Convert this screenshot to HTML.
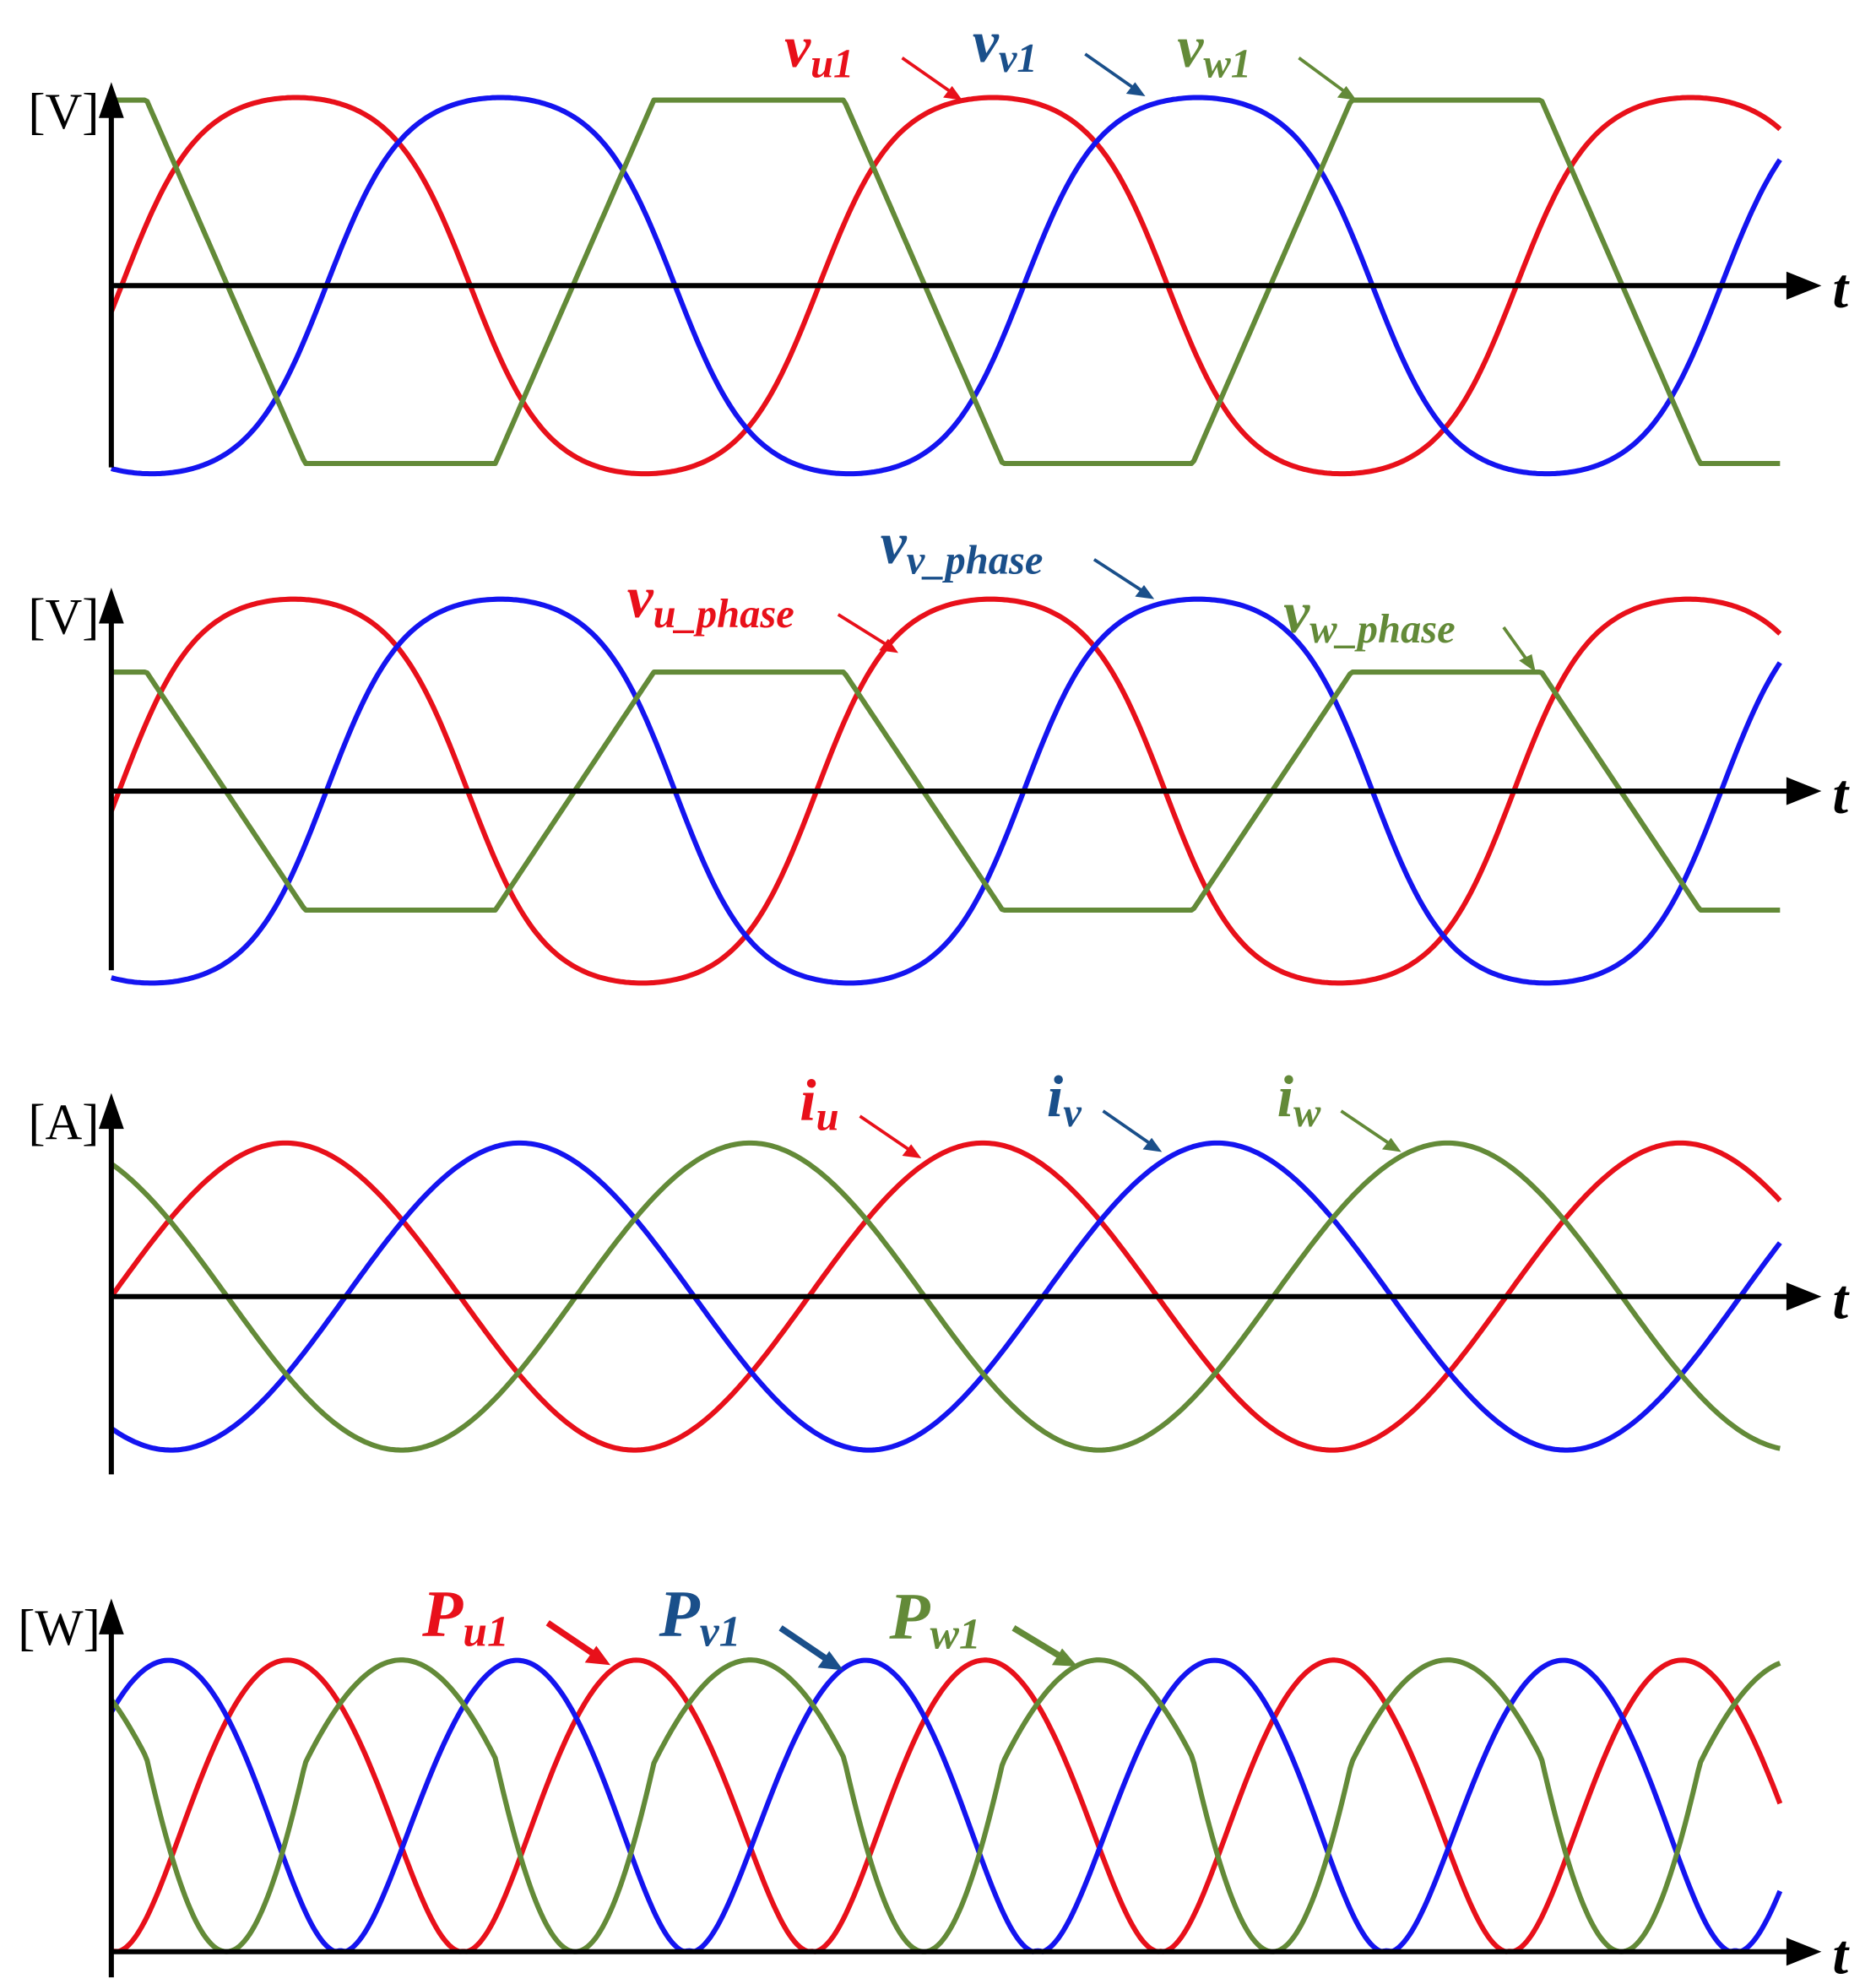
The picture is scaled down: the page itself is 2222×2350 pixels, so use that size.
<!DOCTYPE html>
<html><head><meta charset="utf-8"><style>
html,body{margin:0;padding:0;background:#fff}
svg{display:block}
.l{font-family:"Liberation Serif",serif;font-style:italic;font-weight:bold}
.u{font-family:"Liberation Serif",serif;font-size:40px}
</style></head><body>
<svg id="s" width="2222" height="2350" viewBox="0 0 1466 1550" xmlns="http://www.w3.org/2000/svg">
<g id="curves" fill="none" stroke-width="4" stroke-linejoin="round"></g>
<g id="axes" stroke="#000" stroke-width="4">
<line x1="87" y1="365" x2="87" y2="78"/><path d="M80,90 L87,70 L94,90 z" fill="#000"/>
<line x1="87" y1="223" x2="1405" y2="223"/><path d="M1398,215 L1418,223 L1398,231 z" fill="#000"/>
<line x1="87" y1="758" x2="87" y2="473"/><path d="M80,485 L87,465 L94,485 z" fill="#000"/>
<line x1="87" y1="618" x2="1405" y2="618"/><path d="M1398,610 L1418,618 L1398,626 z" fill="#000"/>
<line x1="87" y1="1152" x2="87" y2="868"/><path d="M80,880 L87,860 L94,880 z" fill="#000"/>
<line x1="87" y1="1013" x2="1405" y2="1013"/><path d="M1398,1005 L1418,1013 L1398,1021 z" fill="#000"/>
<line x1="87" y1="1545" x2="87" y2="1263"/><path d="M80,1275 L87,1255 L94,1275 z" fill="#000"/>
<line x1="87" y1="1525" x2="1405" y2="1525"/><path d="M1398,1517 L1418,1525 L1398,1533 z" fill="#000"/>
</g>
<text class="u" x="22" y="100">[V]</text>
<text class="u" x="22" y="495">[V]</text>
<text class="u" x="22" y="890">[A]</text>
<text class="u" x="14" y="1285">[W]</text>
<g class="l" font-size="44">
<text x="1432" y="240">t</text><text x="1432" y="635">t</text><text x="1432" y="1030">t</text><text x="1432" y="1542">t</text>
</g>
<g class="l">
<text x="613" y="52" fill="#e8101a" font-size="46">v<tspan font-size="32" dy="8">u1</tspan></text>
<text x="760" y="48" fill="#1a4f8a" font-size="46">v<tspan font-size="32" dy="8">v1</tspan></text>
<text x="920" y="52" fill="#638a38" font-size="46">v<tspan font-size="32" dy="8">w1</tspan></text>
<text x="490" y="482" fill="#e8101a" font-size="46">v<tspan font-size="32" dy="8">u_phase</tspan></text>
<text x="688" y="440" fill="#1a4f8a" font-size="46">v<tspan font-size="32" dy="8">v_phase</tspan></text>
<text x="1003" y="494" fill="#638a38" font-size="46">v<tspan font-size="32" dy="8">w_phase</tspan></text>
<text x="625" y="875" fill="#e8101a" font-size="46">i<tspan font-size="32" dy="8">u</tspan></text>
<text x="818" y="872" fill="#1a4f8a" font-size="46">i<tspan font-size="32" dy="8">v</tspan></text>
<text x="998" y="872" fill="#638a38" font-size="46">i<tspan font-size="32" dy="8">w</tspan></text>
<text x="330" y="1278" fill="#e8101a" font-size="52">P<tspan font-size="34" dy="8">u1</tspan></text>
<text x="515" y="1278" fill="#1a4f8a" font-size="52">P<tspan font-size="34" dy="8">v1</tspan></text>
<text x="695" y="1280" fill="#638a38" font-size="52">P<tspan font-size="34" dy="8">w1</tspan></text>
</g>
<g stroke-width="2.5">
<line x1="705" y1="45" x2="745" y2="73" stroke="#e8101a"/><path d="M752,78 L737,76 L744,67 z" fill="#e8101a"/>
<line x1="848" y1="42" x2="888" y2="70" stroke="#1a4f8a"/><path d="M895,75 L880,73 L887,64 z" fill="#1a4f8a"/>
<line x1="1015" y1="45" x2="1053" y2="73" stroke="#638a38"/><path d="M1060,78 L1045,76 L1052,67 z" fill="#638a38"/>
<line x1="655" y1="480" x2="695" y2="505" stroke="#e8101a"/><path d="M702,510 L687,508 L694,499 z" fill="#e8101a"/>
<line x1="855" y1="437" x2="895" y2="463" stroke="#1a4f8a"/><path d="M902,468 L887,466 L894,457 z" fill="#1a4f8a"/>
<line x1="1175" y1="490" x2="1195" y2="518" stroke="#638a38"/><path d="M1200,525 L1187,516 L1197,511 z" fill="#638a38"/>
<line x1="672" y1="872" x2="713" y2="900" stroke="#e8101a"/><path d="M720,905 L705,903 L712,894 z" fill="#e8101a"/>
<line x1="862" y1="868" x2="901" y2="895" stroke="#1a4f8a"/><path d="M908,900 L893,898 L900,889 z" fill="#1a4f8a"/>
<line x1="1048" y1="868" x2="1088" y2="895" stroke="#638a38"/><path d="M1095,900 L1080,898 L1087,889 z" fill="#638a38"/>
</g>
<g stroke-width="5">
<line x1="428" y1="1268" x2="465" y2="1293" stroke="#e8101a"/><path d="M477,1301 L457,1299 L466,1286 z" fill="#e8101a"/>
<line x1="610" y1="1272" x2="647" y2="1297" stroke="#1a4f8a"/><path d="M659,1305 L639,1303 L648,1290 z" fill="#1a4f8a"/>
<line x1="792" y1="1272" x2="830" y2="1295" stroke="#638a38"/><path d="M842,1302 L822,1301 L830,1288 z" fill="#638a38"/>
</g>
</svg>
<script>
(function(){
var R="#e8101a",B="#1414f0",G="#638a38",T=545,P=2*Math.PI;
var g=document.getElementById('curves');
function add(pts,c){var p=document.createElementNS('http://www.w3.org/2000/svg','path');
p.setAttribute('d','M'+pts.map(function(a){return a[0].toFixed(1)+','+a[1].toFixed(1)}).join(' L'));
p.setAttribute('stroke',c);g.appendChild(p);}
function ft(s){return Math.tanh(1.3*s)/Math.tanh(1.3);}
function trap(x,x0,k){var ph=((x-x0)/T)%1;if(ph<0)ph+=1;var tri=ph<0.25?4*ph:(ph<0.75?2-4*ph:4*ph-4);return Math.max(-1,Math.min(1,k*tri));}
function vfun(x,x0){return ft(Math.sin(P*(x-x0)/T));}
function draw(y0,amp,f,c){var a=[];for(var x=87;x<=1392;x+=2)a.push([x,y0-amp*f(x)]);add(a,c);}
draw(223,147,function(x){return vfun(x,95)},R);
draw(223,147,function(x){return vfun(x,255)},B);
draw(220,142,function(x){return trap(x,449,2.2)},G);
draw(618,150,function(x){return vfun(x,93)},R);
draw(618,150,function(x){return vfun(x,255)},B);
draw(618,93,function(x){return trap(x,449,2.2)},G);
draw(1013,120,function(x){return Math.sin(P*(x-87)/T)},R);
draw(1013,120,function(x){return Math.sin(P*(x-270)/T)},B);
draw(1013,120,function(x){return Math.sin(P*(x-450)/T)},G);
draw(1525,228,function(x){return Math.abs(vfun(x,92)*Math.sin(P*(x-87)/T))},R);
draw(1525,228,function(x){return Math.abs(vfun(x,262)*Math.sin(P*(x-270)/T))},B);
draw(1525,228,function(x){return Math.abs(trap(x,449,2.2)*Math.sin(P*(x-450)/T))},G);
})();
</script>
</body></html>
